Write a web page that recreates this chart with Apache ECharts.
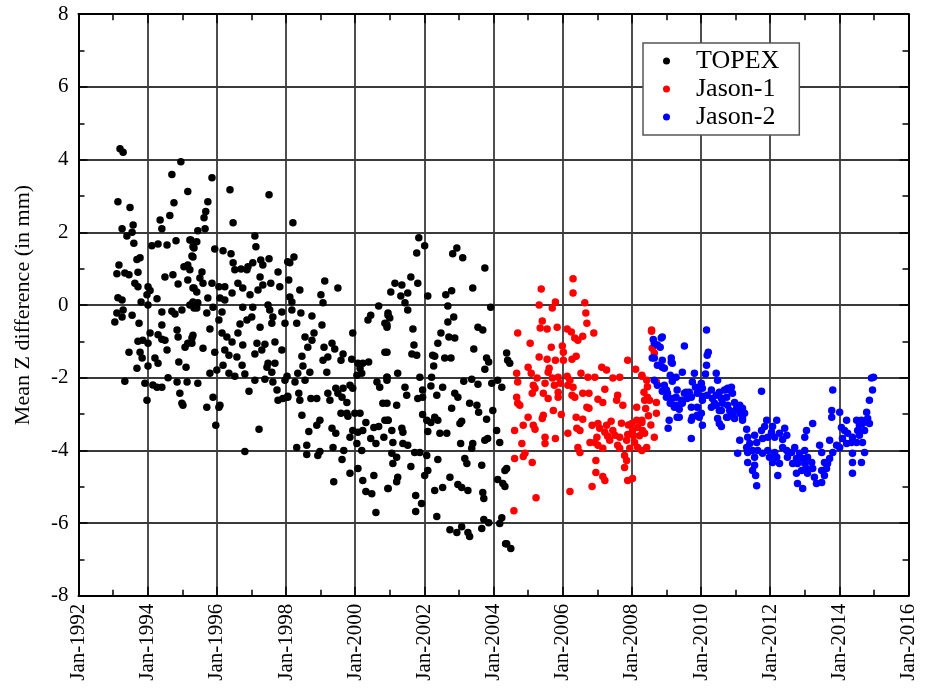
<!DOCTYPE html>
<html><head><meta charset="utf-8">
<script src="https://cdn.jsdelivr.net/npm/echarts@6/dist/echarts.min.js"></script>
<style>html,body{margin:0;padding:0;background:#fff}#c{width:926px;height:690px}</style>
</head><body><div id="c"></div>
<script>
// x values are decimal years, y values are Mean Z difference in mm
const xTickYears = [1992,1994,1996,1998,2000,2002,2004,2006,2008,2010,2012,2014,2016];
const yTicks = [-8,-6,-4,-2,0,2,4,6,8];
const seriesNames = ['TOPEX','Jason-1','Jason-2'];

const topex = [
[1993.20,4.30],[1993.29,4.20],[1993.14,2.84],[1993.49,2.68],[1993.26,2.10],[1993.58,2.20],[1993.55,2.00],[1993.40,1.90],[1993.60,1.70],[1993.78,1.30],[1993.69,1.25],[1993.17,1.10],[1993.11,0.86],[1993.34,0.88],[1993.46,0.83],[1993.72,0.90],[1993.63,0.60],[1993.72,0.50],[1993.14,0.20],[1993.26,0.14],[1993.81,0.08],[1993.11,-0.22],[1993.29,-0.14],[1993.05,-0.47],[1993.26,-0.33],[1993.55,-0.28],[1993.75,-0.50],[1993.46,-1.30],[1993.69,-1.74],[1993.34,-2.10],
[1994.01,0.50],[1994.07,0.40],[1993.98,0.28],[1994.27,0.17],[1994.01,0.00],[1994.07,-0.77],[1994.30,-0.82],[1993.72,-1.00],[1993.86,-0.97],[1994.01,-1.05],[1993.78,-1.30],[1993.84,-1.46],[1994.01,-1.68],[1994.21,-1.46],[1994.30,-1.60],[1994.50,-0.97],[1994.56,-1.24],[1994.41,-0.94],[1994.41,-0.55],[1993.92,-2.15],[1994.15,-2.20],[1994.27,-2.26],[1994.41,-2.26],[1993.98,-2.62],[1994.59,-2.00],[1994.85,-2.12],[1994.93,-2.43],[1994.99,-2.70],[1995.02,-2.76],[1995.14,-2.12],[1994.90,-1.57],[1995.11,-1.71],[1994.85,-0.69],[1994.88,-0.88],[1995.08,-1.16],[1995.16,-1.05],[1995.28,-0.91],
[1994.96,3.94],[1994.70,3.59],[1995.16,3.12],[1994.76,2.81],[1994.64,2.46],[1994.36,2.34],[1994.41,2.10],[1994.12,1.63],[1994.30,1.68],[1994.56,1.65],[1994.82,1.77],[1995.25,1.79],[1995.31,1.60],[1995.28,1.35],[1995.16,1.10],[1995.05,1.05],[1994.50,0.77],[1994.73,0.83],[1994.88,0.58],[1995.16,0.69],[1995.31,0.47],[1994.70,-0.17],[1994.79,-0.25],[1994.99,-0.14],[1995.22,0.00],[1994.41,-0.19],[1995.34,-0.08],
[1995.86,3.50],[1996.38,3.17],[1997.51,3.03],[1996.47,2.26],[1995.74,2.84],[1995.68,2.57],[1995.63,2.40],[1995.66,2.10],[1995.45,2.04],[1995.22,1.79],[1995.42,1.74],[1995.34,1.57],[1995.94,1.54],[1996.18,1.49],[1996.41,1.41],[1995.31,1.32],[1996.47,1.16],[1997.10,1.90],[1997.13,1.60],[1997.04,1.16],[1996.90,1.05],[1997.27,1.24],[1997.51,1.27],[1997.33,1.10],[1996.52,0.97],[1996.70,0.99],[1996.87,0.97],[1997.77,0.91],[1998.05,1.19],[1997.25,0.77],[1995.22,0.97],[1995.57,0.91],[1995.51,0.74],[1995.60,0.60],[1995.86,0.60],[1995.34,0.47],[1995.42,0.36],[1996.61,0.60],[1996.75,0.47],[1996.96,0.28],[1997.19,0.41],[1997.33,0.55],[1997.56,0.60],[1997.82,0.50],[1996.06,0.50],[1996.23,0.50],[1996.44,0.33],[1996.09,0.19],[1996.23,0.14],[1995.74,0.19],[1995.31,0.08],[1995.45,0.06],
[1995.89,-0.06],[1995.71,-0.22],[1995.42,-0.08],[1996.15,-0.19],[1996.75,-0.06],[1997.04,-0.06],[1997.48,0.00],[1997.53,-0.14],[1997.88,-0.19],[1997.01,-0.33],[1996.87,-0.41],[1996.67,-0.52],[1996.61,-0.77],[1997.25,-0.61],[1997.62,-0.33],[1997.59,-0.50],[1996.06,-0.41],[1995.80,-0.66],[1995.31,-0.83],[1995.28,-1.05],[1996.15,-0.77],[1996.29,-0.88],[1996.44,-1.02],[1996.75,-1.10],[1997.16,-1.05],[1997.39,-1.08],[1997.68,-1.02],[1997.88,-1.24],[1997.30,-1.24],[1997.10,-1.35],[1996.23,-1.24],[1995.60,-1.19],[1995.94,-1.30],[1996.35,-1.38],[1996.58,-1.43],[1996.73,-1.66],[1997.48,-1.60],[1997.68,-1.60],[1997.45,-1.71],[1997.59,-1.85],[1996.18,-1.66],[1996.00,-1.79],[1995.80,-1.88],[1996.35,-1.88],[1996.52,-1.96],[1996.81,-1.90],[1997.10,-2.07],[1997.39,-2.04],[1997.62,-2.12],[1997.97,-2.07],[1997.74,-2.34],[1997.77,-2.62],[1997.91,-2.57],[1998.05,-2.54],[1996.93,-2.37],[1995.45,-2.15],[1995.89,-2.54],[1995.71,-2.81],[1996.09,-2.76],[1996.06,-2.81],[1995.97,-3.31],[1997.22,-3.42],[1996.81,-4.03],
[1998.20,2.26],[1998.23,1.32],[1998.11,1.16],[1998.08,0.69],[1998.40,0.41],[1999.12,0.66],[1999.50,0.47],[1999.01,0.28],[1999.07,0.06],[1998.11,0.22],[1998.17,0.08],[1998.17,-0.14],[1998.43,-0.22],[1998.75,-0.30],[1998.31,-0.50],[1999.04,-0.55],[1997.97,-0.50],[1998.81,-0.77],[1998.55,-0.88],[1998.75,-0.97],[1998.63,-1.16],[1999.10,-1.16],[1999.33,-1.05],[1999.41,-1.21],[1999.21,-1.43],[1999.07,-1.52],[1998.46,-1.41],[1998.49,-1.68],[1998.69,-1.85],[1998.34,-1.88],[1998.03,-1.96],[1999.18,-1.85],[1999.65,-1.35],[1999.59,-1.52],[1999.93,-0.77],[1999.90,-1.49],[2000.08,-1.60],[2000.22,-1.60],[2000.39,-1.57],[2000.14,-1.74],[2000.05,-1.93],[2000.19,-1.88],[1998.26,-2.12],[1998.55,-2.07],[1998.05,-2.51],[1998.37,-2.43],[1998.40,-2.62],[1998.72,-2.57],[1998.89,-2.57],[1999.21,-2.43],[1999.27,-2.62],[1999.44,-2.29],[1999.50,-2.43],[1999.65,-2.29],[1999.62,-2.54],[1999.76,-2.68],[1999.85,-2.21],[1999.93,-2.29],[1998.46,-3.03],[1998.98,-3.17],[1998.89,-3.31],[1998.66,-3.48],[1999.33,-3.39],[1999.44,-3.53],[1999.59,-2.98],[1999.76,-2.98],[1999.79,-3.06],[1999.99,-2.98],[2000.14,-2.98],[2000.31,-3.23],[1999.85,-3.64],[1999.93,-3.45],[2000.08,-3.50],[2000.22,-3.45],[2000.05,-3.81],[2000.19,-4.00],[2000.45,-3.67],[2000.60,-3.81],[2000.54,-3.37],[2000.68,-3.34],[2000.83,-3.64],[2000.86,-3.17],[2000.80,-2.70],[2000.95,-3.17],[1998.31,-3.92],[1998.60,-3.86],[1998.60,-4.11],[1998.92,-4.14],[1998.98,-4.03],[1999.36,-3.92],[1999.62,-4.25],[1999.67,-4.00],[1999.85,-4.63],[1999.38,-4.86],[2000.08,-4.50],[2000.22,-4.83],[2000.31,-5.13],[2000.48,-5.19],[2000.54,-4.69],[2000.60,-5.71],[2000.95,-5.05],[2000.92,-2.07],[2000.63,-2.12],[2000.71,-2.26],[2000.86,-1.30],[2000.92,-1.99],[2000.37,-0.41],[2000.45,-0.28],[2000.68,-0.03],[2000.86,-0.50],[2000.95,-0.28],[2000.92,-0.61],
[2001.84,1.85],[2002.01,1.63],[2001.78,1.43],[2002.94,1.57],[2002.82,1.41],[2003.11,1.30],[2003.75,1.02],[2001.61,0.77],[2001.15,0.60],[2001.35,0.55],[2001.81,0.60],[2001.03,0.36],[2001.32,0.25],[2001.52,0.33],[2002.10,0.25],[2002.62,0.28],[2002.79,0.39],[2003.40,0.47],[2001.44,0.06],[2001.52,-0.14],[2002.68,-0.03],[2003.92,-0.06],[2000.95,-0.22],[2001.00,-0.36],[2000.92,-0.55],[2002.85,-0.33],[2002.68,-0.47],[2003.55,-0.61],[2003.69,-0.69],[2001.67,-0.66],[2002.48,-0.77],[2002.71,-0.88],[2002.88,-0.91],[2002.39,-1.05],[2001.70,-1.10],[2001.64,-1.35],[2001.78,-1.38],[2000.92,-1.30],[2002.24,-1.38],[2002.30,-1.41],[2002.59,-1.46],[2002.77,-1.46],[2003.43,-1.21],[2003.80,-1.46],[2003.86,-1.57],[2002.27,-1.68],[2003.75,-1.77],[2001.23,-1.88],[2001.87,-1.99],[2002.21,-1.99],[2003.14,-2.10],[2003.37,-2.04],[2003.55,-2.18],[2003.95,-2.15],[2000.92,-1.99],[2001.44,-2.26],[2001.49,-2.48],[2002.19,-2.23],[2001.95,-2.34],[2001.81,-2.57],[2001.95,-2.54],[2002.36,-2.48],[2002.53,-2.26],[2002.88,-2.43],[2002.97,-2.54],[2000.92,-2.70],[2001.20,-2.76],[2002.79,-2.84],[2003.31,-2.70],[2003.52,-2.76],[2003.57,-2.95],[2003.80,-3.14],[2003.98,-2.90],[2001.95,-3.01],[2002.07,-3.17],[2002.19,-3.23],[2002.30,-3.09],[2002.39,-3.17],[2003.08,-3.20],[2003.03,-3.26],[2000.95,-3.17],[2001.06,-3.45],[2001.35,-3.39],[2001.38,-3.50],[2004.09,-3.45],[2002.10,-3.48],[2002.45,-3.53],[2002.65,-3.53],[2001.09,-3.78],[2001.38,-3.81],[2001.52,-3.86],[2003.05,-3.81],[2003.40,-3.81],[2003.37,-3.94],[2003.75,-3.72],[2003.83,-3.67],[2004.18,-3.78],[2001.72,-4.06],[2001.87,-4.06],[2002.07,-4.14],[2001.06,-4.08],[2001.20,-4.19],[2001.09,-4.36],[2002.39,-4.25],[2003.17,-4.22],[2003.23,-4.36],[2003.66,-4.41],[2001.61,-4.44],[2002.10,-4.55],[2002.01,-4.69],[2004.33,-4.55],[2001.23,-4.74],[2001.20,-4.86],[2000.95,-5.05],[2002.74,-4.74],[2002.53,-5.02],[2002.30,-5.10],[2002.97,-4.94],[2003.08,-5.02],[2003.26,-5.10],[2003.69,-5.16],[2003.72,-5.32],[2004.12,-4.80],[2004.33,-4.99],[2001.75,-5.24],[2001.92,-5.46],[2001.75,-5.68],[2002.36,-5.82],[2003.72,-5.90],[2003.86,-5.99],[2004.24,-5.85],[2004.18,-6.01],[2002.74,-6.18],[2002.94,-6.26],[2003.08,-6.10],[2003.26,-6.26],[2003.31,-6.37],[2003.66,-6.15],[2004.35,-6.57],
[2004.12,-2.07],[2004.24,-2.26],[2004.38,-4.50],[2004.27,-4.91],[2004.38,-6.57],[2004.38,-1.32],[2004.41,-1.52],[2004.47,-1.60],[2004.50,-6.70]
];

const jason1 = [
[2006.30,0.72],[2006.30,0.33],[2005.38,0.44],[2005.32,0.00],[2005.79,0.08],[2005.70,-0.08],[2006.64,0.06],[2006.67,-0.22],[2006.70,-0.50],[2005.41,-0.44],[2005.35,-0.63],[2005.55,-0.66],[2005.84,-0.61],[2006.13,-0.66],[2006.25,-0.74],[2004.70,-0.77],[2006.90,-0.77],[2006.35,-0.91],[2006.44,-0.97],[2006.58,-0.86],[2005.06,-1.05],[2005.67,-1.16],[2005.99,-1.13],[2006.02,-1.30],[2005.32,-1.43],[2005.55,-1.49],[2005.79,-1.52],[2006.02,-1.52],[2006.27,-1.49],[2006.39,-1.41],[2007.88,-1.52],[2008.57,-0.72],[2008.11,-1.77],[2007.13,-1.71],[2007.27,-1.79],[2005.61,-1.74],[2005.58,-1.85],[2004.67,-1.88],[2005.00,-1.71],[2005.09,-1.88],[2004.70,-2.12],[2005.26,-2.01],[2005.70,-2.01],[2005.87,-1.99],[2006.13,-1.96],[2006.21,-2.07],[2006.53,-1.88],[2006.73,-1.99],[2006.93,-1.99],[2007.45,-2.01],[2007.65,-1.99],[2008.29,-1.96],[2005.15,-2.21],[2005.49,-2.15],[2005.76,-2.21],[2005.93,-2.15],[2006.15,-2.21],[2005.20,-2.29],[2005.44,-2.43],[2005.87,-2.40],[2006.30,-2.26],[2006.58,-2.43],[2006.76,-2.43],[2007.22,-2.32],[2005.12,-2.43],[2004.67,-2.54],[2004.70,-2.70],[2005.87,-2.54],[2005.58,-2.57],[2006.27,-2.48],[2006.35,-2.54],[2007.02,-2.59],[2007.16,-2.68],[2007.59,-2.48],[2007.56,-2.62],[2007.74,-2.76],[2008.14,-2.81],[2008.45,-2.54],[2008.71,-2.98],[2006.70,-2.81],[2006.76,-2.84],[2004.76,-2.76],[2005.73,-2.90],[2005.96,-3.01],[2005.44,-3.03],[2005.00,-3.09],[2005.41,-3.12],[2006.39,-3.09],[2006.58,-3.14],[2004.86,-3.31],[2005.15,-3.31],[2005.20,-3.42],[2004.61,-3.45],[2006.41,-3.39],[2006.50,-3.45],[2006.15,-3.53],[2006.85,-3.31],[2007.02,-3.26],[2007.07,-3.39],[2007.27,-3.31],[2007.45,-3.45],[2007.22,-3.50],[2007.30,-3.61],[2007.51,-3.58],[2007.36,-3.72],[2007.65,-3.64],[2007.88,-3.56],[2008.02,-3.45],[2008.17,-3.37],[2008.29,-3.23],[2008.00,-3.26],[2008.14,-3.17],[2008.31,-3.45],[2008.37,-3.53],[2008.65,-3.64],[2007.85,-3.72],[2008.08,-3.78],[2008.17,-3.92],[2007.94,-3.94],[2007.59,-3.86],[2007.65,-3.94],[2006.79,-3.78],[2006.93,-3.78],[2006.99,-3.64],[2007.02,-3.86],[2007.16,-3.94],[2006.44,-3.92],[2006.50,-4.06],[2005.49,-3.64],[2005.49,-3.81],[2005.79,-3.67],[2004.82,-3.81],[2004.91,-4.08],[2004.86,-4.17],[2004.61,-4.22],[2007.79,-4.14],[2007.85,-4.28],[2007.79,-4.47],[2006.96,-4.28],[2005.12,-4.33],[2006.96,-4.61],[2007.22,-4.83],[2007.16,-4.72],[2007.88,-4.83],[2008.02,-4.77],[2006.85,-4.99],[2006.21,-5.13],[2005.23,-5.30],[2004.59,-5.66],
[2008.57,-0.69],[2008.59,-1.19],[2008.65,-1.32],[2008.29,-1.93],[2008.43,-2.07],[2008.71,-2.12],[2008.37,-2.62],[2008.51,-2.62],[2008.71,-2.68],[2008.29,-3.17],[2008.43,-3.92],[2008.29,-4.00],
[2008.40,-2.85],[2008.48,-3.05],[2008.55,-3.30],[2008.22,-3.60],[2008.05,-3.60],[2007.90,-3.30],[2007.70,-3.25],[2007.40,-3.20],[2008.45,-2.25],[2008.35,-2.40]
];

const jason2 = [
[2010.16,-0.69],[2008.88,-0.88],[2008.65,-1.05],[2008.82,-1.16],[2009.52,-1.13],[2010.21,-1.30],[2010.18,-1.38],[2009.14,-1.46],[2009.17,-1.60],[2010.16,-1.66],[2008.59,-1.46],[2008.88,-1.52],[2008.74,-1.66],[2008.94,-1.74],[2009.46,-1.85],[2009.81,-1.88],[2010.13,-1.90],[2010.44,-1.88],[2010.48,-2.07],[2009.11,-1.93],[2009.28,-1.99],[2009.17,-2.10],[2008.65,-2.07],[2008.74,-2.21],[2008.94,-2.21],[2009.75,-2.12],[2010.01,-2.15],[2009.84,-2.26],[2010.04,-2.29],[2009.66,-2.40],[2009.89,-2.43],[2010.04,-2.51],[2008.88,-2.37],[2009.03,-2.43],[2009.00,-2.54],[2009.17,-2.57],[2009.28,-2.54],[2009.52,-2.43],[2009.43,-2.62],[2009.60,-2.57],[2009.11,-2.70],[2009.23,-2.81],[2009.37,-2.87],[2009.46,-2.70],[2009.72,-2.81],[2009.89,-2.81],[2009.75,-3.09],[2010.01,-2.98],[2009.95,-3.09],[2009.31,-3.09],[2009.08,-3.17],[2009.05,-3.39],[2010.04,-3.31],[2009.72,-3.67],[2010.30,-2.34],[2010.33,-2.57],[2010.44,-2.48],[2010.53,-2.40],[2010.68,-2.34],[2010.77,-2.29],[2010.88,-2.26],[2010.91,-2.43],[2010.74,-2.54],[2010.30,-2.81],[2010.44,-2.76],[2010.62,-2.70],[2010.59,-2.90],[2010.77,-2.76],[2010.83,-2.90],[2010.97,-2.68],[2011.03,-2.84],[2011.12,-2.76],[2011.20,-2.84],[2011.12,-2.98],[2011.26,-2.98],[2010.91,-2.98],[2010.77,-3.09],[2010.97,-3.12],[2011.20,-3.12],[2010.48,-3.12],[2010.53,-3.26],[2010.59,-3.34],[2011.75,-2.37],[2011.32,-3.42],[2011.90,-3.17],[2011.84,-3.34],[2011.75,-3.45],[2011.55,-3.58],[2011.35,-3.64],[2011.12,-3.72],[2011.41,-3.81],[2011.61,-3.78],[2011.78,-3.67],[2011.93,-3.64],[2012.19,-3.17],[2012.07,-3.34],[2012.04,-3.50],[2012.13,-3.64],[2012.27,-3.53],[2012.42,-3.39],[2012.48,-3.58],[2012.36,-3.70],[2011.06,-4.08],[2011.32,-3.92],[2011.35,-4.06],[2011.49,-4.00],[2011.64,-4.00],[2011.55,-4.19],[2011.35,-4.33],[2011.55,-4.41],[2011.49,-4.55],[2011.58,-4.69],[2011.61,-4.97],[2011.78,-4.08],[2011.93,-4.00],[2011.98,-4.19],[2012.13,-4.06],[2012.19,-4.19],[2012.07,-4.33],[2012.27,-4.36],[2012.22,-4.69],[2012.36,-3.92],[2012.48,-4.00],[2012.50,-4.19],[2012.62,-4.06],[2012.71,-3.92],[2012.76,-4.22],[2012.65,-4.36],[2012.79,-4.36],[2012.85,-4.08],[2012.94,-4.22],[2013.00,-4.36],[2013.05,-4.50],[2012.91,-4.55],[2012.76,-4.63],[2012.79,-4.91],[2012.94,-5.05],[2013.08,-4.63],[2013.20,-4.33],[2013.23,-4.50],[2013.28,-4.74],[2013.34,-4.91],[2013.49,-4.88],[2013.57,-4.69],[2013.49,-4.55],[2013.63,-4.50],[2013.66,-4.36],[2013.57,-4.33],[2013.72,-4.22],[2013.43,-3.86],[2013.49,-4.06],[2013.23,-3.26],[2013.05,-3.45],[2013.00,-3.64],[2013.00,-4.00],[2013.08,-4.19],[2013.81,-4.06],[2013.72,-3.72],[2013.92,-3.86],[2014.01,-3.92],[2013.78,-2.90],[2013.78,-3.09],[2013.81,-2.34],[2014.01,-2.95],[2014.06,-3.37],[2014.21,-3.17],[2014.15,-3.45],[2014.24,-3.53],[2014.09,-3.67],[2014.21,-3.81],[2014.35,-3.78],[2014.38,-3.64],[2014.50,-3.17],[2014.58,-3.31],[2014.53,-3.45],[2014.58,-3.58],[2014.50,-3.78],[2014.67,-3.78],[2014.73,-4.06],[2014.38,-4.08],[2014.38,-4.33],[2014.38,-4.63],[2014.64,-4.33],[2014.67,-3.26],[2014.79,-2.95],[2014.82,-3.12],[2014.87,-3.26],[2014.73,-3.45],[2014.87,-2.62],[2014.96,-2.34],[2014.93,-2.01],[2014.99,-1.99],[2014.64,-3.17],[2008.62,-0.95],
[2008.85,-0.91],[2008.74,-1.10],[2008.65,-1.46],[2008.88,-1.71],[2009.14,-1.57],[2009.17,-2.00],[2009.00,-2.34],[2009.31,-2.34],[2009.57,-2.40],[2009.72,-2.54],[2009.95,-2.26],[2010.04,-2.62],[2010.18,-2.48],[2010.39,-2.70],[2010.59,-2.57],[2010.83,-2.34],[2010.53,-2.90],[2010.74,-3.09],[2011.20,-3.17],[2009.37,-3.09],[2009.72,-3.17],[2009.89,-3.03],[2009.28,-2.76]
];

const serif = '"Liberation Serif", "DejaVu Serif", serif';
const chart = echarts.init(document.getElementById('c'), null, {renderer: 'canvas'});

const xMin = xTickYears[0], xMax = xTickYears[xTickYears.length - 1];
const yMin = yTicks[0], yMax = yTicks[yTicks.length - 1];

const baseAxisCommon = {
  axisLine: {show: true, onZero: false, lineStyle: {color: '#000', width: 2}},
  axisTick: {show: true, inside: true, length: 9, lineStyle: {color: '#000', width: 1.5}},
  minorTick: {show: true, splitNumber: 2, length: 6, lineStyle: {color: '#000', width: 1.5}}
};

chart.setOption({
  animation: false,
  backgroundColor: '#fff',
  grid: {left: 78.5, right: 17.5, top: 14.2, bottom: 94.2, containLabel: false},
  legend: {
    orient: 'vertical',
    left: 643, top: 43,
    data: seriesNames,
    icon: 'circle',
    itemWidth: 7, itemHeight: 7,
    itemGap: 0,
    padding: [4, 20, 4, 20],
    borderColor: '#555', borderWidth: 1.5,
    backgroundColor: '#fff',
    textStyle: {fontFamily: serif, fontSize: 26, color: '#000', lineHeight: 28, padding: [0, 0, 0, 21]}
  },
  xAxis: [
    Object.assign({
      type: 'value', min: xMin, max: xMax, interval: 2,
      axisLabel: {rotate: 90, fontFamily: serif, fontSize: 21, color: '#000', margin: 8,
        formatter: v => 'Jan-' + v},
      splitLine: {show: true, lineStyle: {color: '#3a3a3a', width: 1.8}}
    }, baseAxisCommon),
    Object.assign({
      type: 'value', min: xMin, max: xMax, interval: 2, position: 'top',
      axisLabel: {show: false}, splitLine: {show: false}
    }, baseAxisCommon)
  ],
  yAxis: [
    Object.assign({
      type: 'value', min: yMin, max: yMax, interval: 2,
      name: 'Mean Z difference (in mm)', nameLocation: 'middle', nameGap: 44,
      nameTextStyle: {fontFamily: serif, fontSize: 22, color: '#000'},
      axisLabel: {fontFamily: serif, fontSize: 21, color: '#000', margin: 10},
      splitLine: {show: true, lineStyle: {color: '#3a3a3a', width: 1.8}}
    }, baseAxisCommon),
    Object.assign({
      type: 'value', min: yMin, max: yMax, interval: 2, position: 'right',
      axisLabel: {show: false}, splitLine: {show: false}
    }, baseAxisCommon)
  ],
  series: [
    {name: seriesNames[0], type: 'scatter', data: topex, symbolSize: 7.5, itemStyle: {color: '#000', opacity: 1}, z: 3},
    {name: seriesNames[1], type: 'scatter', data: jason1, symbolSize: 7.5, itemStyle: {color: '#ff0000', opacity: 1}, z: 4},
    {name: seriesNames[2], type: 'scatter', data: jason2, symbolSize: 7.5, itemStyle: {color: '#0000ff', opacity: 1}, z: 5}
  ]
});
</script>
</body></html>
